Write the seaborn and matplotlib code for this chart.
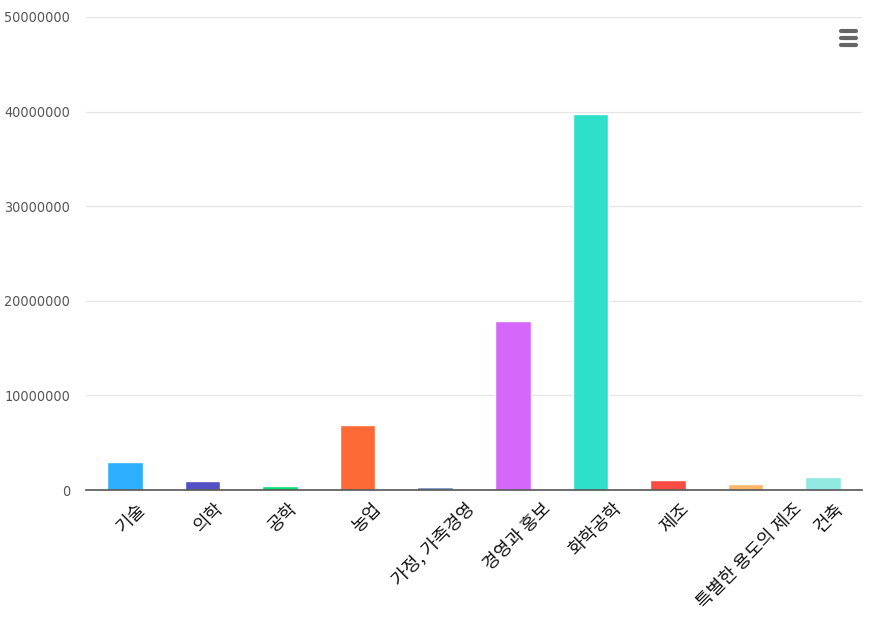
import matplotlib
matplotlib.use("Agg")
import matplotlib.pyplot as plt
import seaborn as sns
import pandas as pd
from matplotlib.lines import Line2D
from matplotlib.transforms import ScaledTranslation
from matplotlib import font_manager

categories = ["기술", "의학", "공학", "농업", "가정, 가족경영", "경영과 홍보", "화학공학", "제조", "특별한 용도의 제조", "건축"]
values = [2950000, 950000, 380000, 6850000, 350000, 17850000, 39750000, 1100000, 620000, 1370000]
colors = ["#2caffe", "#544fc5", "#00e272", "#fe6a35", "#6b8abc", "#d568fb", "#2ee0ca", "#fa4b42", "#feb56a", "#91e8e1"]
yticks = [0, 10000000, 20000000, 30000000, 40000000, 50000000]
# extra horizontal shift (px) of each rotated label, as placed in the reference
label_shift = [0, 0, -4, 2, 18, 17, 10, 0, 35, 0]

sns.set_theme(style="white")
plt.rcParams['font.family'] = ['Noto Sans CJK KR', 'DejaVu Sans']

cond = [f for f in font_manager.fontManager.ttflist
        if f.name.startswith("DejaVu Sans") and "Condensed" in f.fname
        and "Bold" not in f.fname and "Oblique" not in f.fname]

df = pd.DataFrame({"category": categories, "value": values})

fig = plt.figure(figsize=(8.82, 6.2), dpi=100)
ax = fig.add_axes([86/882, 1-490/620, (862-86)/882, (490-17)/620])

sns.barplot(data=df, x="category", y="value", hue="category", palette=colors,
            dodge=False, legend=False, width=0.46, ax=ax, saturation=1)

ax.set_ylim(0, 50000000)
ax.set_xlim(-0.5, len(categories) - 0.5)
ax.set_yticks(yticks)
if cond:
    fp = font_manager.FontProperties(fname=cond[0].fname, size=10.3)
else:
    fp = font_manager.FontProperties(family="Liberation Sans", size=9.5)
ax.set_yticklabels([str(v) for v in yticks], color="#555555", fontproperties=fp)
ax.yaxis.grid(True, color="#e6e6e6", linewidth=1)
ax.set_axisbelow(True)
ax.set_xlabel("")
ax.set_ylabel("")
for s in ["top", "right", "left"]:
    ax.spines[s].set_visible(False)
ax.spines["bottom"].set_color("#555555")
ax.spines["bottom"].set_linewidth(1.2)
ax.tick_params(axis="y", length=0, pad=11.5)
ax.tick_params(axis="x", length=0, pad=4)
ax.set_xticks(range(len(categories)))
ax.set_xticklabels(categories, rotation=45, ha="right", rotation_mode="anchor",
                   fontsize=13, color="#111111")
for lbl, dx in zip(ax.get_xticklabels(), label_shift):
    lbl.set_transform(lbl.get_transform() + ScaledTranslation((12 + dx)/100, -4/100, fig.dpi_scale_trans))

# menu icon
for yy in [31, 38, 45]:
    fig.add_artist(Line2D([841/882, 856/882], [1-yy/620, 1-yy/620], color="#666666",
                          linewidth=3, solid_capstyle="round"))

fig.savefig("out.png", dpi=100)
